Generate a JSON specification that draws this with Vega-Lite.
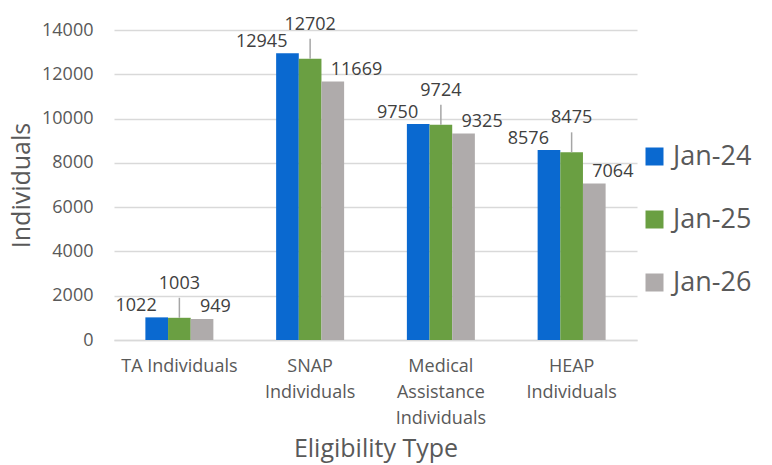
{
  "$schema": "https://vega.github.io/schema/vega-lite/v6.json",
  "width": 523,
  "height": 310,
  "autosize": {"type": "none"},
  "padding": {"left": 114, "top": 30, "right": 135, "bottom": 125},
  "background": "white",
  "config": {"font": "Open Sans", "view": {"stroke": null}},
  "data": {
    "values": [
      {"type": "TA Individuals", "period": "Jan-24", "value": 1022},
      {"type": "TA Individuals", "period": "Jan-25", "value": 1003},
      {"type": "TA Individuals", "period": "Jan-26", "value": 949},
      {"type": "SNAP Individuals", "period": "Jan-24", "value": 12945},
      {"type": "SNAP Individuals", "period": "Jan-25", "value": 12702},
      {"type": "SNAP Individuals", "period": "Jan-26", "value": 11669},
      {"type": "Medical Assistance Individuals", "period": "Jan-24", "value": 9750},
      {"type": "Medical Assistance Individuals", "period": "Jan-25", "value": 9724},
      {"type": "Medical Assistance Individuals", "period": "Jan-26", "value": 9325},
      {"type": "HEAP Individuals", "period": "Jan-24", "value": 8576},
      {"type": "HEAP Individuals", "period": "Jan-25", "value": 8475},
      {"type": "HEAP Individuals", "period": "Jan-26", "value": 7064}
    ]
  },
  "encoding": {
    "x": {
      "field": "type",
      "type": "nominal",
      "sort": ["TA Individuals", "SNAP Individuals", "Medical Assistance Individuals", "HEAP Individuals"],
      "scale": {"paddingInner": 0.48, "paddingOuter": 0.24},
      "axis": {
        "title": "Eligibility Type",
        "titleFontSize": 25,
        "titleFontWeight": "normal",
        "titleColor": "#595959",
        "titleBaseline": "alphabetic",
        "titleY": 116,
        "labelAngle": 0,
        "labelFontSize": 18,
        "labelColor": "#595959",
        "labelBaseline": "top",
        "labelPadding": 17,
        "labelLineHeight": 26,
        "labelExpr": "datum.label == 'TA Individuals' ? datum.label : split(datum.label, ' ')",
        "ticks": false,
        "tickSize": 0,
        "domainColor": "#D9D9D9",
        "domainWidth": 1.5,
        "grid": false
      }
    },
    "xOffset": {
      "field": "period",
      "type": "nominal",
      "scale": {"domain": ["Jan-24", "Jan-25", "Jan-26"], "paddingInner": 0, "paddingOuter": 0}
    },
    "y": {
      "field": "value",
      "type": "quantitative",
      "scale": {"domain": [0, 14000]},
      "axis": {
        "title": "Individuals",
        "titleFontSize": 25,
        "titleFontWeight": "normal",
        "titleColor": "#595959",
        "titlePadding": 7,
        "values": [0, 2000, 4000, 6000, 8000, 10000, 12000, 14000],
        "format": "d",
        "labelFontSize": 18,
        "labelColor": "#595959",
        "labelPadding": 21,
        "ticks": false,
        "tickSize": 0,
        "domain": false,
        "grid": true,
        "gridColor": "#D9D9D9",
        "gridWidth": 1.5
      }
    }
  },
  "layer": [
    {
      "mark": {"type": "bar"},
      "encoding": {
        "color": {
          "field": "period",
          "type": "nominal",
          "scale": {"domain": ["Jan-24", "Jan-25", "Jan-26"], "range": ["#0A69D0", "#6A9F42", "#AFABAB"]},
          "legend": {
            "title": null,
            "orient": "none",
            "legendX": 527,
            "legendY": 113,
            "symbolType": "square",
            "symbolSize": 324,
            "symbolStrokeWidth": 0,
            "labelFontSize": 27,
            "labelColor": "#595959",
            "labelOffset": 5,
            "rowPadding": 35
          }
        }
      }
    },
    {
      "transform": [{"filter": "datum.period == 'Jan-24'"}],
      "mark": {"type": "text", "align": "right", "baseline": "middle", "dy": -11, "fontSize": 18, "color": "#404040"},
      "encoding": {"text": {"field": "value", "type": "quantitative", "format": "d"}}
    },
    {
      "transform": [{"filter": "datum.period == 'Jan-25'"}],
      "mark": {"type": "rule", "y2Offset": -20, "color": "#A6A6A6", "strokeWidth": 1.5},
      "encoding": {"y2": {"field": "value"}}
    },
    {
      "transform": [{"filter": "datum.period == 'Jan-25'"}],
      "mark": {"type": "text", "align": "center", "baseline": "middle", "dy": -34, "fontSize": 18, "color": "#404040"},
      "encoding": {"text": {"field": "value", "type": "quantitative", "format": "d"}}
    },
    {
      "transform": [{"filter": "datum.period == 'Jan-26'"}],
      "mark": {"type": "text", "align": "left", "baseline": "middle", "dx": -2, "dy": -12, "fontSize": 18, "color": "#404040"},
      "encoding": {"text": {"field": "value", "type": "quantitative", "format": "d"}}
    }
  ]
}
